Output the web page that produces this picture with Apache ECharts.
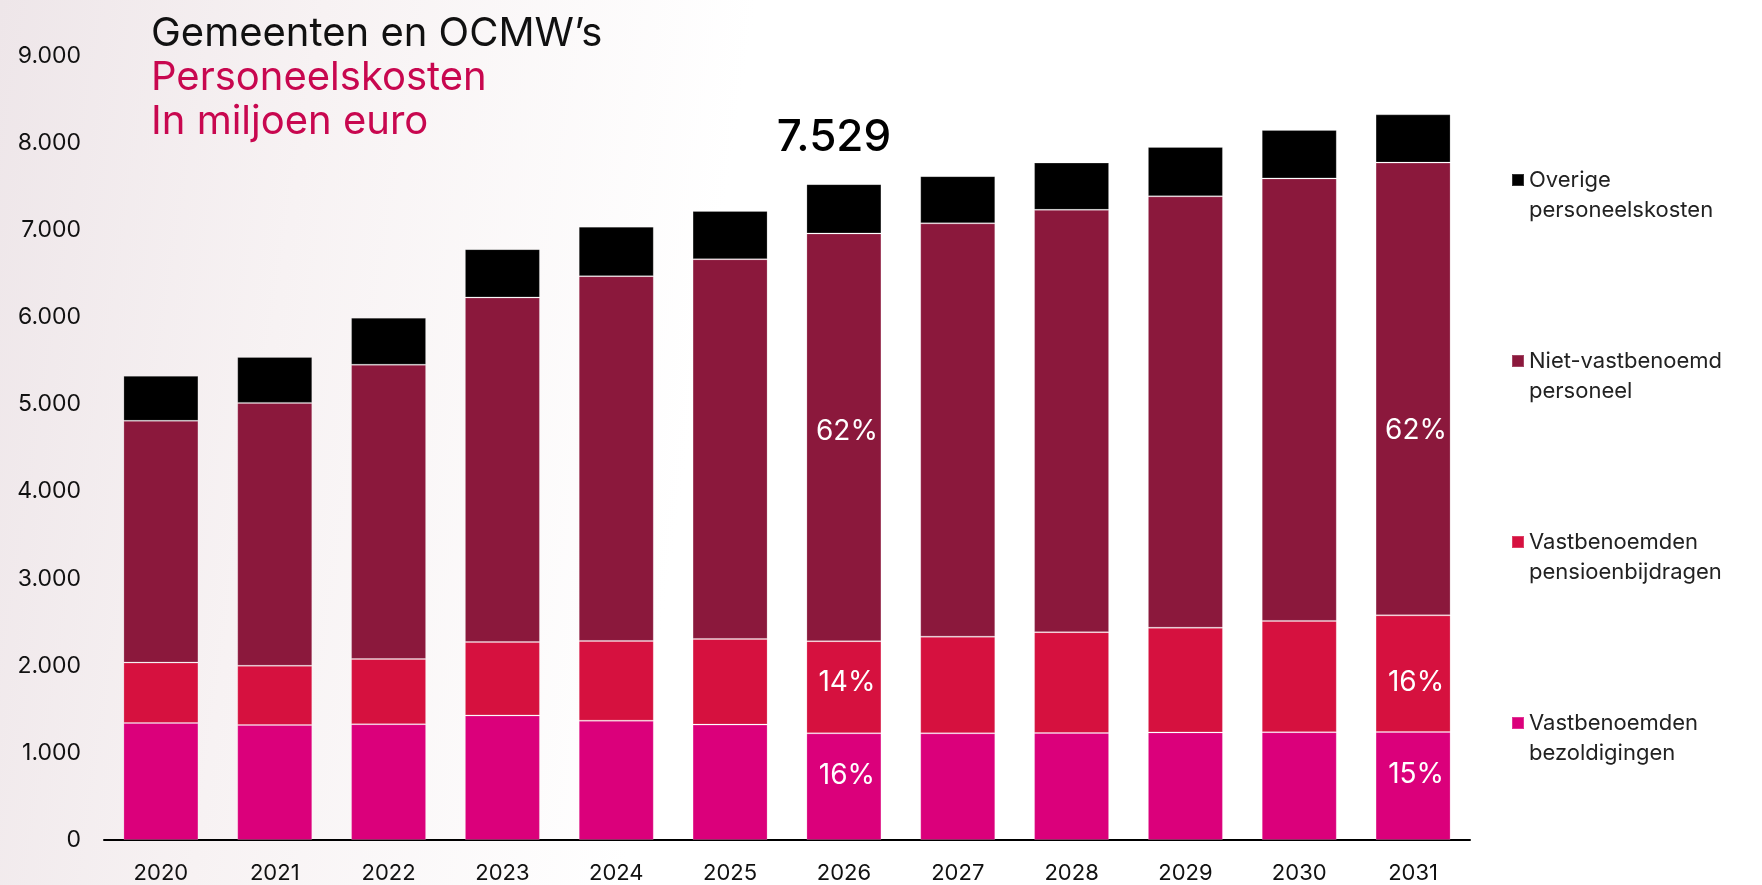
<!DOCTYPE html>
<html>
<head>
<meta charset="utf-8">
<script src="https://cdn.jsdelivr.net/npm/echarts@6/dist/echarts.min.js"></script>
<style>
html,body{margin:0;padding:0;background:#fff;}
#chart{width:1762px;height:885px;}
</style>
</head>
<body>
<div id="chart"></div>
<script>
const years = ['2020','2021','2022','2023','2024','2025','2026','2027','2028','2029','2030','2031'];
const bezoldigingen = [1343, 1320, 1330, 1430, 1370, 1325, 1225, 1225, 1228, 1235, 1238, 1240];
const pensioen = [694, 680, 748, 842, 915, 983, 1057, 1109, 1158, 1202, 1277, 1339];
const nietVast = [2775, 3018, 3378, 3956, 4188, 4359, 4681, 4745, 4848, 4952, 5080, 5197];
const overige = [516, 527, 540, 555, 568, 554, 566, 542, 542, 567, 555, 554];
const yTicks = [0, 1000, 2000, 3000, 4000, 5000, 6000, 7000, 8000, 9000];
const labelYears = ['2026', '2031'];
const totalLabelYear = '2026';

const names = {
  o: 'Overige\npersoneelskosten',
  n: 'Niet-vastbenoemd\npersoneel',
  p: 'Vastbenoemden\npensioenbijdragen',
  b: 'Vastbenoemden\nbezoldigingen'
};
const colors = {o: '#000000', n: '#8b183c', p: '#d6113f', b: '#db007b'};
// vertical label nudges (px) per labelled year, per segment
const labelNudge = {
  '2026': {b: -11, p: -5, n: -6},
  '2031': {b: -11, p: 9, n: 42}
};
const totals = years.map((_, i) => bezoldigingen[i] + pensioen[i] + nietVast[i] + overige[i]);
const fmt = v => String(Math.round(v)).replace(/\B(?=(\d{3})+(?!\d))/g, '.');
const FONT = 'Inter, "Open Sans", sans-serif';

function seriesData(arr, key) {
  return arr.map((v, i) => {
    const y = years[i];
    if (!labelYears.includes(y)) return v;
    return {
      value: v,
      label: {
        show: true, position: 'inside', offset: [3, labelNudge[y][key]],
        color: '#ffffff', fontFamily: FONT, fontSize: 28,
        formatter: () => Math.round(v / totals[i] * 100) + '%'
      }
    };
  });
}

const border = {borderColor: 'rgba(255,255,255,0.2)', borderWidth: 1};
const chart = echarts.init(document.getElementById('chart'));
const option = {
  animation: false,
  backgroundColor: 'transparent',
  graphic: [{
    type: 'rect', z: -10, silent: true,
    shape: {x: 0, y: 0, width: 1762, height: 885},
    style: {
      fill: new echarts.graphic.LinearGradient(0, 0, 1, 0.3, [
        {offset: 0, color: '#eee6e9'},
        {offset: 0.18, color: '#f7f2f3'},
        {offset: 0.42, color: '#ffffff'},
        {offset: 1, color: '#ffffff'}
      ])
    }
  }],
  title: {
    left: 146, top: 7,
    text: '{a|Gemeenten en OCMW’s}\n{b|Personeelskosten}\n{b|In miljoen euro}',
    textStyle: {
      rich: {
        a: {fontFamily: FONT, fontSize: 40, fontWeight: 'normal', color: '#111111', lineHeight: 44},
        b: {fontFamily: FONT, fontSize: 40, fontWeight: 'normal', color: '#c8074f', lineHeight: 44}
      }
    }
  },
  legend: {
    orient: 'vertical',
    left: 1506, top: 130,
    itemWidth: 12, itemHeight: 12,
    itemGap: 91,
    icon: 'rect',
    data: [names.o, names.n, names.p, names.b],
    formatter: name => '\n' + name,
    textStyle: {fontFamily: FONT, fontSize: 22, color: '#222', lineHeight: 30},
    selectedMode: false
  },
  grid: {left: 104, right: 292, top: 56, bottom: 45, containLabel: false},
  xAxis: {
    type: 'category',
    data: years,
    axisLine: {lineStyle: {color: '#000', width: 2}},
    axisTick: {show: false},
    axisLabel: {fontFamily: FONT, fontSize: 22, color: '#111', margin: 22}
  },
  yAxis: {
    type: 'value',
    min: yTicks[0], max: yTicks[yTicks.length - 1], interval: 1000,
    splitLine: {show: false},
    axisLine: {show: false},
    axisTick: {show: false},
    axisLabel: {fontFamily: FONT, fontSize: 23, color: '#111', margin: 23, formatter: v => fmt(v)}
  },
  series: [
    {name: names.b, type: 'bar', stack: 't', barWidth: 75, data: seriesData(bezoldigingen, 'b'),
      itemStyle: Object.assign({color: colors.b}, border)},
    {name: names.p, type: 'bar', stack: 't', data: seriesData(pensioen, 'p'),
      itemStyle: Object.assign({color: colors.p}, border)},
    {name: names.n, type: 'bar', stack: 't', data: seriesData(nietVast, 'n'),
      itemStyle: Object.assign({color: colors.n}, border)},
    {name: names.o, type: 'bar', stack: 't', data: overige,
      itemStyle: Object.assign({color: colors.o}, border),
      label: {
        show: true, position: 'top', distance: 24, offset: [-10, 0],
        color: '#000', fontFamily: FONT, fontSize: 44, fontWeight: 500,
        formatter: p => years[p.dataIndex] === totalLabelYear ? fmt(totals[p.dataIndex]) : ''
      }}
  ]
};
chart.setOption(option);
</script>
</body>
</html>
